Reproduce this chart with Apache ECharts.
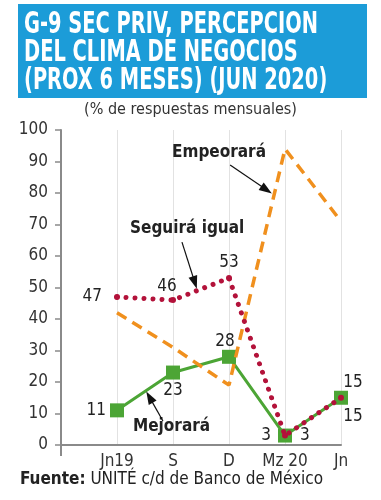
<!DOCTYPE html>
<html><head><meta charset="utf-8">
<script src="https://cdn.jsdelivr.net/npm/echarts@6/dist/echarts.min.js"></script>
<style>html,body{margin:0;padding:0;background:#fff}#c{width:381px;height:500px}</style>
</head><body><div id="c"></div>
<script>
const categories = ['Jn19', 'S', 'D', 'Mz 20', 'Jn'];
const mejorara = [11, 23, 28, 3, 15];
const seguiraIgual = [47, 46, 53, 3, 15];
const empeorara = [42, 31, 19, 94, 71];
const yTicks = [0, 10, 20, 30, 40, 50, 60, 70, 80, 90, 100];

const FONT = '"Liberation Sans Narrow", "DejaVu Sans Condensed", "Roboto", sans-serif';
const chart = echarts.init(document.getElementById('c'), null, {renderer: 'canvas'});

function pts(vals) { return vals.map((v, i) => [i, v]); }
function withLabels(vals, conf) {
  return pts(vals).map((p, i) => ({
    value: p,
    label: {position: conf[i][0], distance: conf[i][1], offset: conf[i][2] || [0, 0]}
  }));
}
const lbl = {show: true, color: '#222', fontSize: 17, fontFamily: FONT, formatter: p => p.value[1]};

function arrow(from, to) {
  return [{coord: from, symbol: 'none'}, {coord: to, symbol: 'triangle'}];
}
const mlBase = {
  silent: true, animation: false,
  lineStyle: {color: '#111', width: 1.2, type: 'solid'},
  symbolSize: [9, 13], label: {show: false}
};

const option = {
  animation: false,
  grid: {left: 61, right: 40, top: 130, bottom: 55, containLabel: false},
  xAxis: {
    type: 'value', min: -1, max: 4, interval: 1,
    axisLine: {show: true, onZero: false, lineStyle: {color: '#8a8a8a', width: 2}},
    axisTick: {show: false},
    axisLabel: {color: '#333', fontSize: 17, fontFamily: FONT, margin: 8,
      formatter: v => (v >= 0 && v < categories.length) ? categories[v] : ''},
    splitLine: {show: true, lineStyle: {color: '#e2e2e2', width: 1}}
  },
  yAxis: {
    type: 'value', min: 0, max: 100, interval: 10,
    axisLine: {show: true, onZero: false, lineStyle: {color: '#8a8a8a', width: 2}},
    axisTick: {show: true, length: 6, lineStyle: {color: '#8a8a8a', width: 1.5}},
    axisLabel: {color: '#333', fontSize: 17, fontFamily: FONT, margin: 13,
      formatter: v => yTicks.includes(v) ? String(v) : ''},
    splitLine: {show: false}
  },
  series: [
    {
      name: 'Mejorará', type: 'line', z: 2,
      data: withLabels(mejorara, [['left', 4], ['bottom', 3], ['top', 0, [-4, 0]], ['left', 7], ['top', 0, [12, 0]]]),
      symbol: 'rect', symbolSize: 14,
      itemStyle: {color: '#4ca535'},
      lineStyle: {color: '#4ca535', width: 3},
      label: lbl,
      markLine: Object.assign({}, mlBase, {data: [arrow([0.82, 7.6], [0.58, 15.2])]})
    },
    {
      name: 'Empeorará', type: 'line', z: 3,
      data: withLabels(empeorara, [['left', 21, [0, 10]], ['top', 6], ['bottom', 14, [3, 0]], ['top', 8, [-2, 0]], ['bottom', 11]]),
      symbol: 'circle', symbolSize: 1,
      itemStyle: {color: '#f0901e', opacity: 0},
      lineStyle: {color: '#f0901e', width: 3.5, type: [11, 7]},
      label: lbl,
      markLine: Object.assign({}, mlBase, {data: [arrow([2.02, 88.9], [2.67, 81])]})
    },
    {
      name: 'Seguirá igual', type: 'line', z: 4,
      data: withLabels(seguiraIgual, [['left', 12], ['top', 2, [-6, 0]], ['top', 4], ['right', 12], ['bottom', 7, [12, 0]]]),
      symbol: 'circle', symbolSize: 6,
      itemStyle: {color: '#b3123a'},
      lineStyle: {color: '#b3123a', width: 5, type: [0.01, 9], cap: 'round'},
      label: lbl,
      markLine: Object.assign({}, mlBase, {data: [arrow([1.16, 64.4], [1.39, 51.6])]})
    }
  ],
  graphic: [
    {type: 'rect', left: 18, top: 4, shape: {width: 349, height: 94}, style: {fill: '#1c9cd8'}, z: 0},
    {type: 'text', left: 24, top: 10, z: 1, scaleX: 0.72,
      style: {text: 'G-9 SEC PRIV, PERCEPCION\nDEL CLIMA DE NEGOCIOS\n(PROX 6 MESES) (JUN 2020)',
        fill: '#fff', font: 'bold 30px ' + FONT, lineHeight: 28}},
    {type: 'text', left: 'center', top: 102, z: 1,
      style: {text: '(% de respuestas mensuales)', fill: '#333', font: '16px ' + FONT}},
    {type: 'text', left: 172, top: 144, z: 5,
      style: {text: 'Empeorará', fill: '#222', font: 'bold 17px ' + FONT}},
    {type: 'text', left: 130, top: 220, z: 5,
      style: {text: 'Seguirá igual', fill: '#222', font: 'bold 17px ' + FONT}},
    {type: 'text', left: 133, top: 418, z: 5,
      style: {text: 'Mejorará', fill: '#222', font: 'bold 17px ' + FONT}},
    {type: 'text', left: 20, top: 471, z: 1,
      style: {text: '{b|Fuente:} UNITÉ c/d de Banco de México', fill: '#222', font: '17px ' + FONT,
        rich: {b: {fontWeight: 'bold', fontSize: 17, fontFamily: FONT, fill: '#222'}}}},
    {type: 'line', shape: {x1: 61, y1: 445, x2: 61, y2: 456}, style: {stroke: '#8a8a8a', lineWidth: 2}}
  ]
};
chart.setOption(option);
</script></body></html>
